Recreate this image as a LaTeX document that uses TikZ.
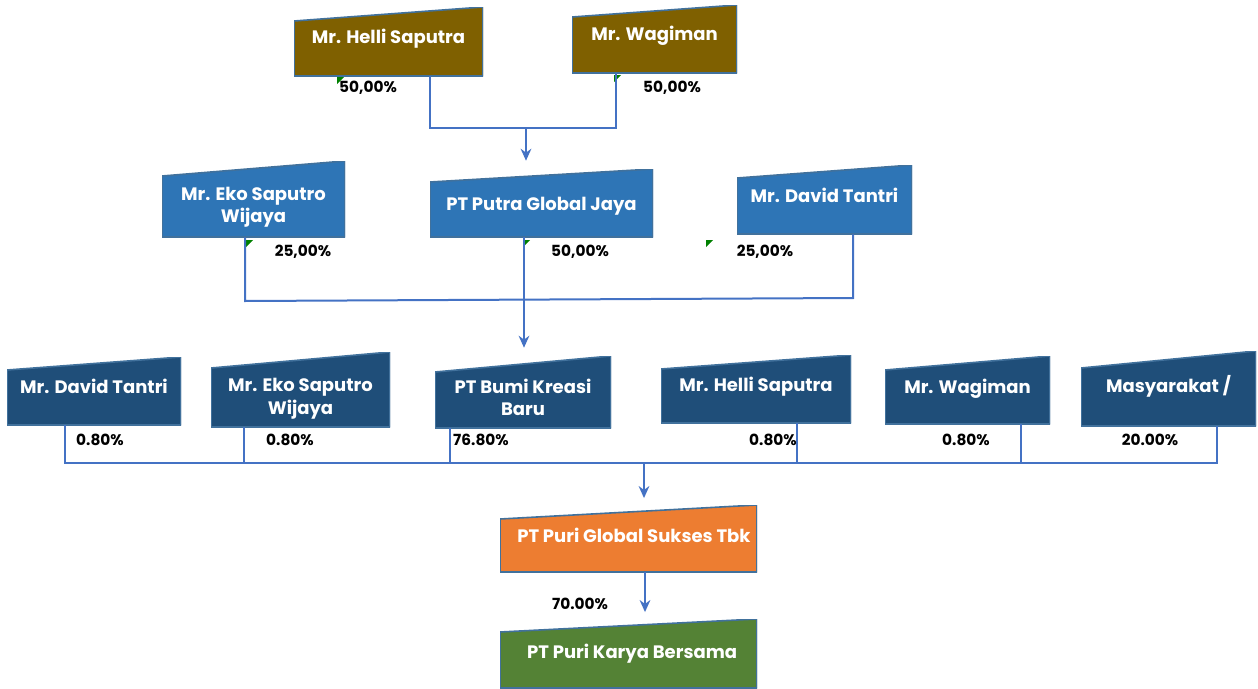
\documentclass[tikz,border=0pt]{standalone}
\usepackage{fontspec}
\setmainfont{Poppins}
\usetikzlibrary{arrows.meta}

\definecolor{brownbox}{HTML}{7F6000}
\definecolor{bluebox}{HTML}{2E75B6}
\definecolor{navybox}{HTML}{1F4E79}
\definecolor{orangebox}{HTML}{ED7D31}
\definecolor{greenbox}{HTML}{548235}
\definecolor{edgebox}{HTML}{41719C}
\definecolor{linkblue}{HTML}{4472C4}
\definecolor{markgreen}{HTML}{008000}

% raise text in a box without changing its size
\newcommand{\lift}[2]{\raisebox{#1}[\height][\depth]{\begin{tabular}{@{}c@{}}#2\end{tabular}}}

\tikzset{
  inbox/.style n args={4}{draw=none, inner sep=0pt, text=white, align=center,
    minimum width={#2*0.75pt}, minimum height={#3*0.75pt},
    font=\bfseries\fontsize{13.5}{17}\selectfont,
    path picture={
      \fill[#1, draw=edgebox, line width=1.2pt] (path picture bounding box.south west)
        -- (path picture bounding box.south east)
        -- (path picture bounding box.north east)
        -- ([yshift={-#4*0.75pt}]path picture bounding box.north west) -- cycle;}},
  pct/.style={font=\bfseries\fontsize{11.5}{13}\selectfont, inner sep=0pt},
  link/.style={draw=linkblue, line width=1.5pt},
  arr/.style={link, -{Stealth[length=9pt,width=8pt]}},
  flag/.style={fill=markgreen},
}

\begin{document}
\begin{tikzpicture}[x=0.75pt, y=-0.75pt]
            \useasboundingbox (0,0) rectangle (1258,689);
            %Nodes
            \node[inbox={brownbox}{189}{69}{14}] at (388.5,41.5) (hs1) {\lift{1.6pt}{Mr. Helli Saputra}};
            \node[inbox={brownbox}{165}{68}{12}] at (654.5,39)   (wg1) {\lift{2.3pt}{Mr. Wagiman}};
            \node[inbox={bluebox}{183}{76}{15}]  at (253.5,199)  (eko2) {\lift{-6pt}{Mr. Eko Saputro\\Wijaya}};
            \node[inbox={bluebox}{223}{68}{13}]  at (541.5,203)  (pgj) {\lift{-2.3pt}{PT Putra Global Jaya}};
            \node[inbox={bluebox}{175}{69}{13}]  at (824.5,199.5) (dt2) {\lift{1.5pt}{Mr. David Tantri}};
            \node[inbox={navybox}{174}{68}{13}]  at (94,391)     (dt3) {\lift{1.5pt}{Mr. David Tantri}};
            \node[inbox={navybox}{179}{75}{16}]  at (300.5,389.5) (eko3) {\lift{-6.5pt}{Mr. Eko Saputro\\Wijaya}};
            \node[inbox={navybox}{176}{72}{16}]  at (523,392)    (pbk) {\lift{-6pt}{PT Bumi Kreasi\\Baru}};
            \node[inbox={navybox}{190}{68}{14}]  at (756,389)    (hs3) {\lift{1.5pt}{Mr. Helli Saputra}};
            \node[inbox={navybox}{165}{68}{14}]  at (967.5,390)  (wg3) {\lift{0.8pt}{Mr. Wagiman}};
            \node[inbox={navybox}{175}{75}{17}]  at (1168.5,388.5) (mas) {\lift{0.8pt}{Masyarakat /}};
            \node[inbox={orangebox}{257}{67}{14}] at (628.5,538.5) (pgs) {\hspace*{0.6em}\lift{0.3pt}{PT Puri Global Sukses Tbk}};
            \node[inbox={greenbox}{257}{69}{13}] at (628.5,653.5) (pkb) {\hspace*{0.4em}\lift{0pt}{PT Puri Karya Bersama}};

            %Percentages
            \node[pct] at (368,88)   (p1)  {50,00\%};
            \node[pct] at (672,88)   (p2)  {50,00\%};
            \node[pct] at (303,252)  (p3)  {25,00\%};
            \node[pct] at (580,252)  (p4)  {50,00\%};
            \node[pct] at (765,252)  (p5)  {25,00\%};
            \node[pct] at (100,440)  (p6)  {0.80\%};
            \node[pct] at (290,440)  (p7)  {0.80\%};
            \node[pct] at (481,440)  (p8)  {76.80\%};
            \node[pct] at (773,440)  (p9)  {0.80\%};
            \node[pct] at (966,440)  (p10) {0.80\%};
            \node[pct] at (1150,440) (p11) {20.00\%};
            \node[pct] at (580,604)  (p12) {70.00\%};

            %Marks
            \fill[flag] (337,77) -- (344,77) -- (337,84) -- cycle;
            \fill[flag] (614,75) -- (621,75) -- (614,82) -- cycle;
            \fill[flag] (246,240) -- (253,240) -- (246,247) -- cycle;
            \fill[flag] (523,240) -- (530,240) -- (523,247) -- cycle;
            \fill[flag] (706,240) -- (713,240) -- (706,247) -- cycle;

            %Junctions
            \coordinate (t1) at (430,128);
            \coordinate (t2) at (616,128);
            \coordinate (t3) at (526,128);
            \coordinate (m1) at (245,301);
            \coordinate (m2) at (853,298);
            \coordinate (m3) at (524,300);
            \coordinate (b1) at (65,463);
            \coordinate (b2) at (244,463);
            \coordinate (b3) at (450,463);
            \coordinate (b4) at (797,463);
            \coordinate (b5) at (1021,463);
            \coordinate (b6) at (1217,463);
            \coordinate (b7) at (644,463);
            \coordinate (c1) at (645,572);

            %Lines
            \draw[link] (hs1.south -| t1) -- (t1) -- (t2) -- (wg1.south -| t2);
            \draw[arr, shorten >=6pt] (t3) -- (pgj.north -| t3);
            \draw[link] (eko2.south -| m1) -- (m1) -- (m2) -- (dt2.south -| m2);
            \draw[arr, shorten >=6pt] (pgj.south -| m3) -- (pbk.north -| m3);
            \draw[link] (dt3.south -| b1) -- (b1) -- (b6) -- (mas.south -| b6);
            \draw[link] (eko3.south -| b2) -- (b2);
            \draw[link] (pbk.south -| b3) -- (b3);
            \draw[link] (hs3.south -| b4) -- (b4);
            \draw[link] (wg3.south -| b5) -- (b5);
            \draw[arr, shorten >=5pt] (b7) -- (pgs.north -| b7);
            \draw[arr, shorten >=5pt] (pgs.south -| c1) -- (pkb.north -| c1);
        \end{tikzpicture}
\end{document}
